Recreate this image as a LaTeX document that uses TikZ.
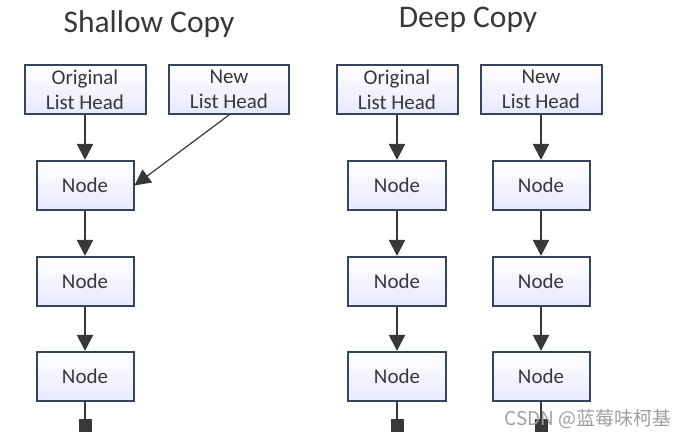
\documentclass[tikz,border=0pt]{standalone}
\usepackage{fontspec}
\setmainfont{Carlito}
\newfontfamily\cjk{Noto Sans CJK SC}
\usetikzlibrary{arrows.meta}
\definecolor{boxline}{HTML}{34465F}
\definecolor{ink}{HTML}{383838}

\begin{document}
\begin{tikzpicture}
        [x=1pt,y=1pt,
        box/.style = {rectangle,
        draw=boxline, line width=2pt,
        top color=white, bottom color=blue!9,
        text=ink, align=center, inner sep=0pt,
        font=\fontsize{21}{25}\selectfont,
        minimum height=49pt},
        link/.style = {draw=ink, line width=1.8pt,
        -{Triangle[width=16pt,length=16pt]}},
        nullbox/.style = {fill=ink, inner sep=0pt, minimum size=13pt},
        title/.style = {anchor=base, text=ink, font=\fontsize{31.5}{31.5}\selectfont}]

        \useasboundingbox (0,0) rectangle (690,438);

        % Titles
        \node[title] (ST) at (149,405) {Shallow Copy};
        \node[title] (DT) at (468,410) {Deep Copy};

        % Shallow copy
        \node[box,minimum width=121pt] (SO) at (85,348.5) {Original\\List Head};
        \node[box,minimum width=120pt] (SN) at (229,348.5) {New\\List Head};
        \node[box,minimum width=97pt] (S1) at (85,252.5) {Node};
        \node[box,minimum width=97pt] (S2) at (85,156.5) {Node};
        \node[box,minimum width=97pt] (S3) at (85,61.5) {Node};
        \node[nullbox] (S4) at (85,12) {};

        % Deep copy, original list
        \node[box,minimum width=121pt] (DO) at (397,348.5) {Original\\List Head};
        \node[box,minimum width=98pt] (DO1) at (397,252.5) {Node};
        \node[box,minimum width=98pt] (DO2) at (397,156.5) {Node};
        \node[box,minimum width=98pt] (DO3) at (397,61.5) {Node};
        \node[nullbox] (DO4) at (397,12) {};

        % Deep copy, new list
        \node[box,minimum width=121pt] (DN) at (541,348.5) {New\\List Head};
        \node[box,minimum width=97pt] (DN1) at (541,252.5) {Node};
        \node[box,minimum width=97pt] (DN2) at (541,156.5) {Node};
        \node[box,minimum width=97pt] (DN3) at (541,61.5) {Node};
        \node[nullbox] (DN4) at (541,12) {};

        % Links
        \draw[link] (SO) -- (S1);
        \draw[link] (S1) -- (S2);
        \draw[link] (S2) -- (S3);
        \draw[draw=ink, line width=1.8pt] (S3) -- (S4);
        \draw[link, line width=1.2pt] (SN.south) -- (S1.east);

        \draw[link] (DO) -- (DO1);
        \draw[link] (DO1) -- (DO2);
        \draw[link] (DO2) -- (DO3);
        \draw[draw=ink, line width=1.8pt] (DO3) -- (DO4);

        \draw[link] (DN) -- (DN1);
        \draw[link] (DN1) -- (DN2);
        \draw[link] (DN2) -- (DN3);
        \draw[draw=ink, line width=1.8pt] (DN3) -- (DN4);

        % Watermark
        \node[text=gray!75, font=\cjk\fontsize{19}{19}\selectfont] (WM) at (588,19) {CSDN @蓝莓味柯基};
    \end{tikzpicture}
\end{document}
